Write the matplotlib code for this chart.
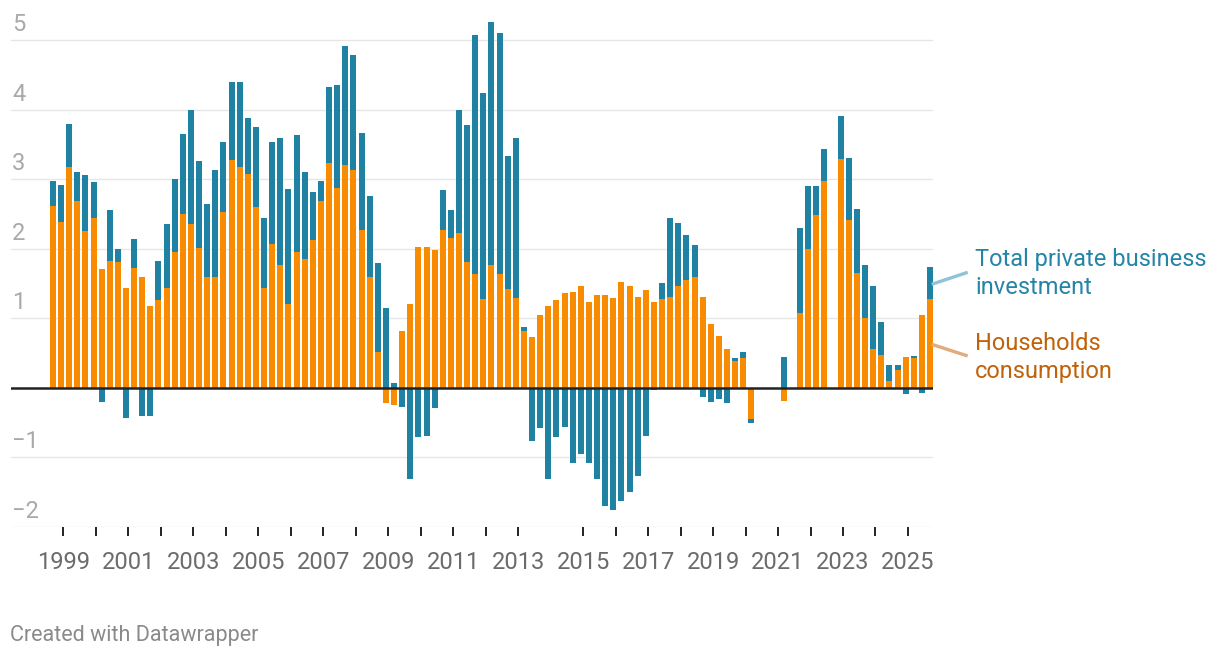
import numpy as np
import pandas as pd
import matplotlib
matplotlib.use("Agg")
import matplotlib.pyplot as plt
from matplotlib.lines import Line2D
import matplotlib.transforms as mtransforms

plt.rcParams['font.family'] = ['Roboto', 'DejaVu Sans']

# quarterly data, 1998 Q3 .. 2025 Q3 (nan = quarter not shown)
quarters = pd.period_range('1998Q3', '2025Q3', freq='Q')
nan = np.nan

households = [2.62, 2.39, 3.17, 2.68, 2.26, 2.44, 1.71, 1.82, 1.81, 1.43,
              1.72, 1.59, 1.17, 1.26, 1.44, 1.95, 2.50, 2.36, 2.01, 1.60,
              1.60, 2.53, 3.27, 3.17, 3.07, 2.60, 1.43, 2.07, 1.76, 1.20,
              1.95, 1.85, 2.13, 2.68, 3.23, 2.88, 3.20, 3.13, 2.27, 1.60,
              0.52, -0.22, -0.25, 0.81, 1.20, 2.02, 2.02, 1.98, 2.27, 2.15,
              2.23, 1.81, 1.63, 1.27, 1.76, 1.63, 1.42, 1.29, 0.82, 0.73,
              1.04, 1.17, 1.26, 1.36, 1.37, 1.47, 1.24, 1.34, 1.34, 1.29,
              1.52, 1.46, 1.30, 1.40, 1.23, 1.27, 1.31, 1.47, 1.55, 1.60,
              1.30, 0.92, 0.75, 0.56, 0.39, 0.43, -0.45, nan, nan, nan,
              -0.19, nan, 1.08, 2.00, 2.49, 2.98, nan, 3.29, 2.42, 1.65,
              1.01, 0.56, 0.47, 0.10, 0.26, 0.44, 0.43, 1.05, 1.27]

investment = [0.36, 0.52, 0.62, 0.42, 0.80, 0.52, -0.21, 0.74, 0.19, -0.43,
              0.42, -0.40, -0.40, 0.56, 0.91, 1.06, 1.15, 1.64, 1.25, 1.05,
              1.53, 1.00, 1.13, 1.23, 0.81, 1.15, 1.01, 1.46, 1.84, 1.66,
              1.68, 1.25, 0.68, 0.30, 1.10, 1.48, 1.72, 1.65, 1.39, 1.16,
              1.27, 1.15, 0.07, -0.28, -1.31, -0.71, -0.69, -0.29, 0.57, 0.41,
              1.77, 1.97, 3.44, 2.97, 3.50, 3.47, 1.91, 2.30, 0.06, -0.77,
              -0.58, -1.31, -0.71, -0.56, -1.08, -0.95, -1.08, -1.31, -1.70, -1.76,
              -1.63, -1.50, -1.27, -0.69, -0.03, 0.23, 1.13, 0.90, 0.64, 0.45,
              -0.14, -0.21, -0.16, -0.22, 0.04, 0.09, -0.06, nan, nan, nan,
              0.44, nan, 1.22, 0.90, 0.41, 0.46, nan, 0.62, 0.88, 0.92,
              0.75, 0.90, 0.48, 0.23, 0.07, -0.09, 0.03, -0.08, 0.46]

year_ticks = list(range(1999, 2026))
year_ticks.remove(2014)
y_grid = [-2, -1, 0, 1, 2, 3, 4, 5]

ORANGE = '#f98b00'
TEAL = '#1f82a3'

hh = np.array(households)
inv = np.array(investment)
x = quarters.year + (quarters.quarter - 1) / 4 + 0.18

W, H = 1220, 660
fig = plt.figure(figsize=(W / 100, H / 100), dpi=100)
ax = fig.add_axes([11 / W, (H - 526.7) / H, (933 - 11) / W, 526.7 / H])
ax.set_xlim(1997.39, 2025.77)
ax.set_ylim(-2, 387.7 / 69.5 - 0)

# stacked: positives go up, negatives go down, households first
pos_b = np.zeros(len(hh))
neg_b = np.zeros(len(hh))
for vals, col in [(hh, ORANGE), (inv, TEAL)]:
    v = np.nan_to_num(vals)
    bottom = np.where(v >= 0, pos_b, neg_b)
    ax.bar(x, v, bottom=bottom, width=0.185, color=col, linewidth=0, zorder=2)
    pos_b = pos_b + np.where(v > 0, v, 0)
    neg_b = neg_b + np.where(v < 0, v, 0)

for g in y_grid:
    if g == 0:
        ax.axhline(0, color='#222222', lw=1.8, zorder=3)
        continue
    ax.axhline(g, color='#e6e6e6', lw=1.0, zorder=1)
    lab = str(g).replace('-', '\u2212')
    off = mtransforms.offset_copy(ax.transData, fig=fig, x=0, y=6.4, units='points')
    ax.text(1997.42, g, lab, transform=off, ha='left', va='baseline',
            fontsize=17, color='#a9a9a9')

for s in ax.spines.values():
    s.set_visible(False)
ax.set_yticks([])
ax.set_xticks(year_ticks)
ax.set_xticklabels([str(y) if y % 2 == 1 else '' for y in year_ticks])
ax.tick_params(axis='x', direction='out', length=6.5, width=1.4, color='#222222',
               labelsize=17, labelcolor='#6b6b6b', pad=11)

# series labels with connector lines
def px(xp, yp):
    return xp / W, (H - yp) / H

fig.text(*px(975, 265.7), 'Total private business', color='#2585a6', fontsize=17, va='baseline')
fig.text(*px(975, 294), 'investment', color='#2585a6', fontsize=17, va='baseline')
fig.text(*px(975, 350), 'Households', color='#c0620a', fontsize=17, va='baseline')
fig.text(*px(975, 377.7), 'consumption', color='#c0620a', fontsize=17, va='baseline')

for (x0, y0, x1, y1, c) in [(931.7, 284.3, 967.7, 272.3, '#8fc3d6'),
                            (931.7, 344.3, 967.7, 356.0, '#e2ab7b')]:
    a, b = px(x0, y0)
    c2, d = px(x1, y1)
    fig.add_artist(Line2D([a, c2], [b, d], color=c, lw=2.4, solid_capstyle='butt'))

fig.text(*px(10, 640.7), 'Created with Datawrapper', color='#8a8a8a', fontsize=15.5, va='baseline')

fig.savefig('out.png', dpi=100, facecolor='white')
